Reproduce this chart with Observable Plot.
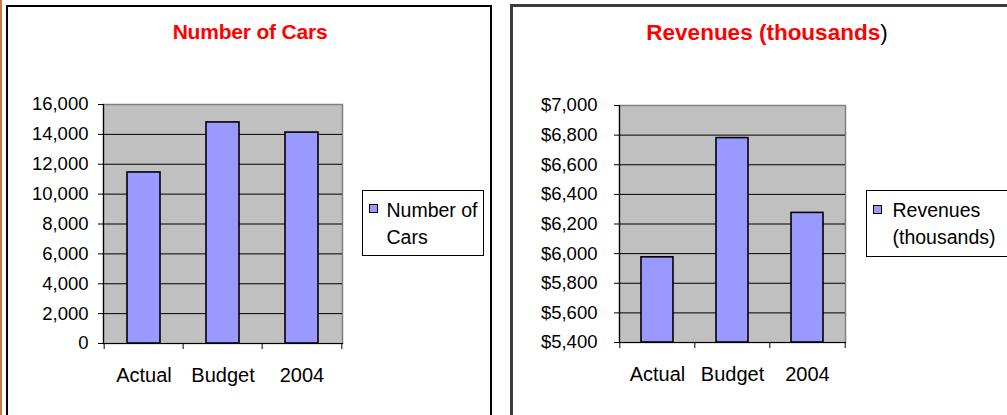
<!DOCTYPE html>
<html>
<head>
<meta charset="utf-8">
<script src="https://cdn.jsdelivr.net/npm/d3@7"></script>
<script src="https://cdn.jsdelivr.net/npm/@observablehq/plot@0.6"></script>
<style>
  html, body { margin: 0; padding: 0; background: #fff; }
  body { position: relative; width: 1007px; height: 415px; overflow: hidden; font-family: "Liberation Sans", Arial, sans-serif; }
  .abs { position: absolute; }
  .panel { box-sizing: border-box; }
  .title { font-weight: bold; color: #ff0000; white-space: nowrap; text-align: center; }
  .legend { box-sizing: border-box; border: 1px solid #000; background: #fff; }
  .swatch { box-sizing: border-box; width: 9px; height: 9px; background: #9999ff; border: 1.5px solid #000; }
  .ltext { font-size: 19.5px; line-height: 26.7px; color: #000; white-space: nowrap; }
  svg { position: absolute; top: 0; overflow: visible; }
</style>
</head>
<body>
<div class="abs" style="left:0;top:0;width:2px;height:415px;background:#c27a4e"></div>
<div class="abs panel" style="left:6px;top:5px;width:486px;height:430px;border:2.5px solid #000"></div>
<div class="abs panel" style="left:510px;top:4px;width:520px;height:430px;border:3px solid #3c3c3c"></div>

<div class="abs title" style="left:100px;width:300px;top:20px;font-size:21px;letter-spacing:-0.2px">Number of Cars</div>
<div class="abs title" style="left:617px;width:300px;top:20px;font-size:22.5px;letter-spacing:0px">Revenues (thousands<span style="color:#000;font-weight:normal">)</span></div>

<div class="abs legend" style="left:362px;top:190px;width:122px;height:66px"></div>
<div class="abs swatch" style="left:368.5px;top:204px"></div>
<div class="abs ltext" style="left:386.5px;top:197.4px">Number of<br>Cars</div>

<div class="abs legend" style="left:866px;top:190px;width:141px;height:67px;border-right:none"></div>
<div class="abs swatch" style="left:872.5px;top:204.5px"></div>
<div class="abs ltext" style="left:892.5px;top:196.8px">Revenues<br>(thousands)</div>

<div id="left"></div>
<div id="right"></div>

<script>
// ---- data ----
const categories = ["Actual", "Budget", "2004"];
const carValues = [11450, 14800, 14120];
const revenueValues = [5975, 6780, 6275];
const carTicks = [0, 2000, 4000, 6000, 8000, 10000, 12000, 14000, 16000];
const revenueTicks = [5400, 5600, 5800, 6000, 6200, 6400, 6600, 6800, 7000];

const carData = categories.map((c, i) => ({category: c, value: carValues[i]}));
const revData = categories.map((c, i) => ({category: c, value: revenueValues[i]}));

const FONT = '"Liberation Sans", Arial, sans-serif';

function makeChart({data, ticks, format, baseline, width, height, mL, mR, mT, mB, pad, tickPad}) {
  const step = (width - mL - mR) / categories.length;
  const lo = ticks[0], hi = ticks[ticks.length - 1];
  const inner = ticks.filter(t => t > lo && t < hi);
  return Plot.plot({
    width, height,
    marginLeft: mL, marginRight: mR, marginTop: mT, marginBottom: mB,
    x: {domain: categories, paddingInner: pad, paddingOuter: pad / 2, axis: null, label: null},
    y: {domain: [lo, hi], axis: null, label: null},
    style: {fontFamily: FONT, color: "#000", background: "transparent", overflow: "visible"},
    marks: [
      Plot.frame({fill: "#c0c0c0", stroke: "#808080", strokeWidth: 1.5}),
      Plot.gridY(inner, {stroke: "#000", strokeOpacity: 1, strokeWidth: 1}),
      Plot.barY(data, {x: "category", y1: baseline, y2: "value", fill: "#9999ff", stroke: "#000", strokeWidth: 1.6}),
      Plot.frame({anchor: "left", stroke: "#000", strokeWidth: 1.2}),
      Plot.frame({anchor: "bottom", stroke: "#000", strokeWidth: 1.2}),
      Plot.axisY({ticks, tickFormat: format, tickSize: 5, tickPadding: tickPad, fontSize: 18.5, stroke: "#000", strokeWidth: 1, label: null}),
      Plot.axisX({ticks: categories, tickFormat: () => "", tickSize: 6, dx: -step / 2, stroke: "#000", label: null}),
      Plot.axisX({ticks: categories.slice(-1), tickFormat: () => "", tickSize: 6, dx: step / 2, stroke: "#000", label: null}),
      Plot.axisX({ticks: categories, tickSize: 0, tickPadding: 24, fontSize: 20, label: null})
    ]
  });
}

const left = makeChart({
  data: carData, ticks: carTicks, format: d3.format(","), baseline: 0,
  width: 492, height: 415, mL: 103, mR: 150, mT: 104, mB: 72, pad: 0.58, tickPad: 10
});
left.style.left = "0px";
document.getElementById("left").appendChild(left);

const right = makeChart({
  data: revData, ticks: revenueTicks, format: d => "$" + d3.format(",")(d), baseline: 5400,
  width: 495, height: 415, mL: 107, mR: 162, mT: 105, mB: 73, pad: 0.57, tickPad: 17
});
right.style.left = "512px";
document.getElementById("right").appendChild(right);
</script>
</body>
</html>
